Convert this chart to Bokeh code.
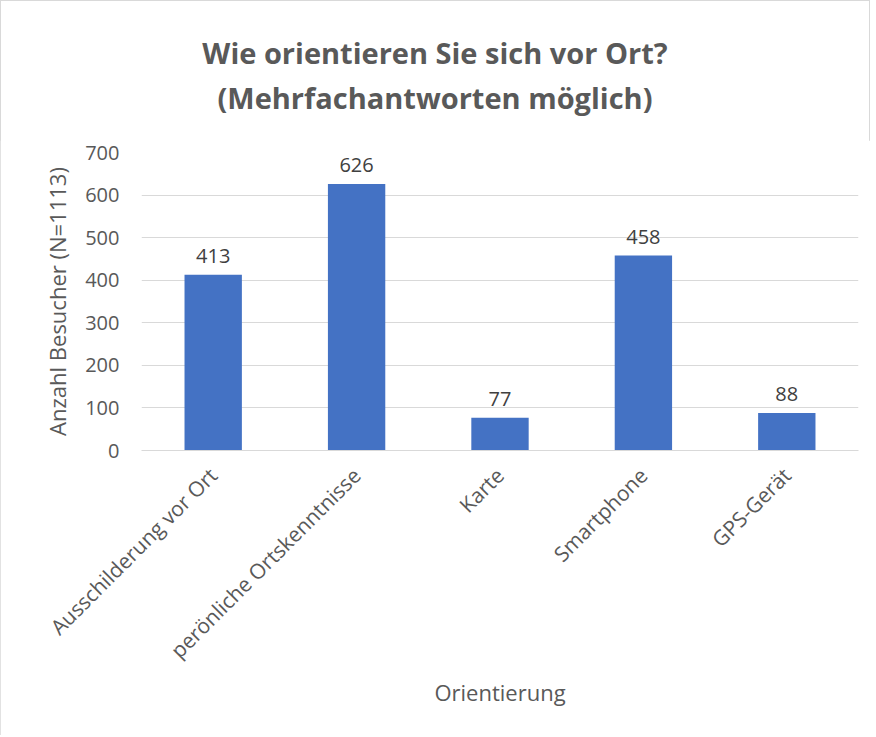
import math
from bokeh.plotting import figure
from bokeh.models import ColumnDataSource, LabelSet, Range1d, Div
from bokeh.layouts import column
from bokeh.core.properties import value
from bokeh.embed import file_html
from bokeh.resources import INLINE

categories = ["Ausschilderung vor Ort", "perönliche Ortskenntnisse", "Karte", "Smartphone", "GPS-Gerät"]
values = [413, 626, 77, 458, 88]
y_ticks = [0, 100, 200, 300, 400, 500, 600, 700]

title_lines = ["Wie orientieren Sie sich vor Ort?", "(Mehrfachantworten möglich)"]
x_title = "Orientierung"
y_title = "Anzahl Besucher (N=1113)"

FONT = "Open Sans"
GRAY = "#595959"
W = 870
TITLE_H = 140
FIG_H = 595

title_html = (
    f'<div style="width:{W - 8}px;padding-left:8px;padding-top:30px;text-align:center;'
    f'font-family:\'{FONT}\';font-size:29px;font-weight:bold;line-height:45px;color:{GRAY};">'
    + "<br>".join(title_lines) + "</div>"
)
title_div = Div(text=title_html, width=W, height=TITLE_H, margin=0)

src = ColumnDataSource(dict(cat=categories, val=values, lab=[str(v) for v in values]))

p = figure(width=W, height=FIG_H, x_range=categories, y_range=Range1d(0, 700),
           output_backend="svg", toolbar_location=None, margin=0,
           min_border_left=141, min_border_right=12, min_border_top=12, min_border_bottom=285)

p.vbar(x="cat", top="val", width=0.4, source=src, fill_color="#4472C4", line_color=None)

labels = LabelSet(x="cat", y="val", text="lab", source=src, text_align="center",
                  text_baseline="bottom", y_offset=12, text_font=value(FONT),
                  text_font_size=value("20px"), text_color=value("#404040"))
p.add_layout(labels)

p.outline_line_color = None
p.xgrid.grid_line_color = None
p.ygrid.grid_line_color = "#d9d9d9"
p.ygrid.grid_line_width = 1

p.yaxis.ticker = y_ticks
p.yaxis.axis_line_color = None
p.yaxis.major_tick_line_color = None
p.yaxis.minor_tick_line_color = None
p.yaxis.major_label_text_font = FONT
p.yaxis.major_label_text_font_size = "20px"
p.yaxis.major_label_text_color = GRAY
p.yaxis.major_label_standoff = 16
p.yaxis.axis_label = y_title
p.yaxis.axis_label_text_font = FONT
p.yaxis.axis_label_text_font_size = "22px"
p.yaxis.axis_label_text_font_style = "normal"
p.yaxis.axis_label_text_color = GRAY
p.yaxis.axis_label_standoff = 10

p.xaxis.axis_line_color = "#d9d9d9"
p.xaxis.axis_line_width = 1
p.xaxis.major_tick_line_color = None
p.xaxis.minor_tick_line_color = None
p.xaxis.major_label_orientation = math.pi / 4
p.xaxis.major_label_text_font = FONT
p.xaxis.major_label_text_font_size = "21px"
p.xaxis.major_label_text_color = GRAY
p.xaxis.major_label_standoff = 15
p.xaxis.axis_label = x_title
p.xaxis.axis_label_text_font = FONT
p.xaxis.axis_label_text_font_size = "22px"
p.xaxis.axis_label_text_font_style = "normal"
p.xaxis.axis_label_text_color = GRAY
p.xaxis.axis_label_standoff = 0

layout = column(title_div, p, spacing=0, margin=0,
                styles={"outline": "1px solid #d9d9d9", "outline-offset": "-1px",
                        "background-color": "white"})

open("out.html", "w").write(file_html(layout, INLINE))
